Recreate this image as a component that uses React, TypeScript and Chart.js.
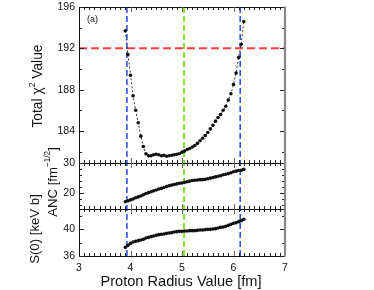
import React, { useEffect, useRef } from "react";
import { Chart, registerables } from "chart.js";

Chart.register(...registerables);

// ---- data ----
const radius = [
  3.9, 3.95, 4.0, 4.05, 4.1, 4.15, 4.2, 4.25, 4.3, 4.35, 4.4, 4.45, 4.5, 4.55, 4.6, 4.65,
  4.7, 4.75, 4.8, 4.85, 4.9, 4.95, 5.0, 5.05, 5.1, 5.15, 5.2, 5.25, 5.3, 5.35, 5.4, 5.45,
  5.5, 5.55, 5.6, 5.65, 5.7, 5.75, 5.8, 5.85, 5.9, 5.95, 6.0, 6.05, 6.1, 6.15, 6.2,
];
const chiSquare = [
  193.7, 191.4, 189.4, 187.4, 186.0, 184.8, 183.5, 182.5, 181.8, 181.6, 181.6, 181.7, 181.75,
  181.7, 181.6, 181.65, 181.55, 181.6, 181.65, 181.7, 181.75, 181.8, 181.95, 182.05, 182.2,
  182.3, 182.45, 182.6, 182.8, 183.05, 183.3, 183.55, 183.85, 184.2, 184.55, 184.95, 185.3,
  185.6, 186.0, 186.4, 187.0, 187.6, 188.5, 189.6, 191.1, 192.4, 194.6,
];
const anc = [
  17.2, 17.5, 17.8, 18.1, 18.5, 18.8, 19.1, 19.5, 19.9, 20.2, 20.5, 20.8, 21.1, 21.4, 21.6,
  21.9, 22.2, 22.5, 22.7, 22.9, 23.1, 23.3, 23.4, 23.6, 23.8, 24.0, 24.2, 24.3, 24.4, 24.5,
  24.5, 24.6, 24.8, 25.0, 25.2, 25.4, 25.6, 25.8, 26.1, 26.3, 26.5, 26.8, 27.1, 27.3, 27.5,
  27.6, 27.9,
];
const sFactor = [
  37.3, 37.6, 37.9, 38.1, 38.2, 38.3, 38.4, 38.5, 38.7, 38.8, 38.9, 39.0, 39.1, 39.2, 39.25,
  39.3, 39.4, 39.45, 39.5, 39.6, 39.65, 39.7, 39.7, 39.75, 39.75, 39.8, 39.8, 39.8, 39.85,
  39.9, 39.9, 39.95, 40.0, 40.0, 40.05, 40.1, 40.2, 40.3, 40.35, 40.45, 40.6, 40.75, 40.9,
  41.0, 41.15, 41.3, 41.5,
];
const xTickLabels = [3, 4, 5, 6, 7];
const chiTickLabels = [184, 188, 192, 196];
const ancTickLabels = [20, 30];
const sTickLabels = [36, 40];
const chiLimit = [192];
const radiusBounds = [3.93, 6.13];
const bestRadius = [5.04];

const FAMILY = '"Liberation Sans", Arial, sans-serif';

type Part = { text: string; sup?: boolean };

function drawRich(ctx: CanvasRenderingContext2D, parts: Part[], cx: number, cy: number, size: number, rotate: boolean) {
  ctx.save();
  ctx.translate(cx, cy);
  if (rotate) ctx.rotate(-Math.PI / 2);
  const fontFor = (sup?: boolean) => `${sup ? size * 0.62 : size}px ${FAMILY}`;
  let total = 0;
  for (const p of parts) {
    ctx.font = fontFor(p.sup);
    total += ctx.measureText(p.text).width;
  }
  let x = -total / 2;
  ctx.textBaseline = "middle";
  ctx.textAlign = "left";
  ctx.fillStyle = "#111";
  for (const p of parts) {
    ctx.font = fontFor(p.sup);
    ctx.fillText(p.text, x, p.sup ? -size * 0.42 : 0);
    x += ctx.measureText(p.text).width;
  }
  ctx.restore();
}

const crisp = (v: number) => Math.round(v) + 0.5;

const framePlugin = {
  id: "frame",
  beforeDatasetsDraw(chart: any) {
    const ctx: CanvasRenderingContext2D = chart.ctx;
    const xs = chart.scales.x;
    const top = chart.chartArea.top;
    const bottom = chart.chartArea.bottom;
    ctx.save();
    ctx.lineWidth = 1.6;
    ctx.setLineDash([6, 3]);
    ctx.strokeStyle = "#3355ee";
    for (const r of radiusBounds) {
      const px = xs.getPixelForValue(r);
      ctx.beginPath();
      ctx.moveTo(px, top);
      ctx.lineTo(px, bottom);
      ctx.stroke();
    }
    ctx.strokeStyle = "#88e030";
    ctx.lineWidth = 2;
    for (const r of bestRadius) {
      const px = xs.getPixelForValue(r);
      ctx.beginPath();
      ctx.moveTo(px, top);
      ctx.lineTo(px, bottom);
      ctx.stroke();
    }
    ctx.restore();
  },
  afterDatasetsDraw(chart: any) {
    const ctx: CanvasRenderingContext2D = chart.ctx;
    const xs = chart.scales.x;
    const { left, right, top, bottom } = chart.chartArea;
    const panels = [
      { s: chart.scales.yC, labels: chiTickLabels, step: 2 },
      { s: chart.scales.yA, labels: ancTickLabels, step: 2 },
      { s: chart.scales.yS, labels: sTickLabels, step: 2 },
    ];
    ctx.save();
    ctx.setLineDash([]);
    ctx.lineWidth = 1;
    for (const p of panels) {
      const pt = p.s.top;
      const pb = p.s.bottom;
      ctx.strokeStyle = "#111";
      for (const yy of [pt, pb]) {
        ctx.beginPath();
        ctx.moveTo(left, crisp(yy));
        ctx.lineTo(right, crisp(yy));
        ctx.stroke();
      }
      for (let i = 30; i <= 70; i++) {
        const v = i / 10;
        const px = crisp(xs.getPixelForValue(v));
        const major = i % 10 === 0;
        const len = major ? 5 : 3;
        ctx.strokeStyle = major ? "#666" : "#222";
        ctx.beginPath();
        ctx.moveTo(px, pt);
        ctx.lineTo(px, pt + len);
        ctx.moveTo(px, pb);
        ctx.lineTo(px, pb - len);
        ctx.stroke();
      }
      const min = p.s.min;
      const max = p.s.max;
      for (let v = Math.ceil(min / p.step) * p.step; v <= max + 1e-9; v += p.step) {
        const py = crisp(p.s.getPixelForValue(v));
        const major = p.labels.includes(v);
        const len = major ? 5 : 3;
        ctx.strokeStyle = "#222";
        ctx.beginPath();
        ctx.moveTo(left, py);
        ctx.lineTo(left + len, py);
        ctx.moveTo(right, py);
        ctx.lineTo(right - len, py);
        ctx.stroke();
      }
      ctx.fillStyle = "#111";
      ctx.font = `10.5px ${FAMILY}`;
      ctx.textAlign = "right";
      ctx.textBaseline = "middle";
      for (const v of p.labels) {
        ctx.fillText(String(v), left - 4, p.s.getPixelForValue(v));
      }
    }
    ctx.strokeStyle = "#111";
    ctx.beginPath();
    ctx.moveTo(crisp(left), top);
    ctx.lineTo(crisp(left), bottom);
    ctx.stroke();
    ctx.strokeStyle = "#888";
    ctx.lineWidth = 2.2;
    ctx.beginPath();
    ctx.moveTo(right, top - 0.5);
    ctx.lineTo(right, bottom + 0.5);
    ctx.stroke();
    ctx.fillStyle = "#111";
    ctx.font = `10.5px ${FAMILY}`;
    ctx.textAlign = "center";
    ctx.textBaseline = "middle";
    for (const v of xTickLabels) {
      ctx.fillText(String(v), xs.getPixelForValue(v), bottom + 12);
    }
    ctx.font = `9px ${FAMILY}`;
    ctx.textAlign = "left";
    ctx.fillText("(a)", left + 8, top + 13);
    ctx.restore();

    drawRich(ctx, [{ text: "Proton Radius Value [fm]" }], (left + right) / 2 - 1, bottom + 26, 14.6, false);
    drawRich(ctx, [{ text: "Total χ" }, { text: "2", sup: true }, { text: " Value" }], 38, 86, 13.8, true);
    drawRich(ctx, [{ text: "ANC [fm" }, { text: "−1/2", sup: true }, { text: "]" }], 53, 182, 13.2, true);
    drawRich(ctx, [{ text: "S(0) [keV b]" }], 35, 229, 13.2, true);
  },
};

export default function App() {
  const ref = useRef<HTMLCanvasElement | null>(null);
  useEffect(() => {
    if (!ref.current) return;
    const pts = (ys: number[]) => radius.map((x, i) => ({ x, y: ys[i] }));
    const chart = new Chart(ref.current, {
      type: "line",
      data: {
        datasets: [
          {
            data: pts(chiSquare),
            yAxisID: "yC",
            borderColor: "#333",
            borderWidth: 1,
            borderDash: [2, 2],
            pointRadius: 1.8,
            pointBackgroundColor: "#111",
            pointBorderColor: "#111",
            pointBorderWidth: 0,
            tension: 0,
          },
          {
            data: pts(anc),
            yAxisID: "yA",
            borderColor: "#111",
            borderWidth: 1.5,
            pointRadius: 1.8,
            pointBackgroundColor: "#111",
            pointBorderColor: "#111",
            pointBorderWidth: 0,
            tension: 0,
          },
          {
            data: pts(sFactor),
            yAxisID: "yS",
            borderColor: "#111",
            borderWidth: 1.5,
            pointRadius: 1.8,
            pointBackgroundColor: "#111",
            pointBorderColor: "#111",
            pointBorderWidth: 0,
            tension: 0,
          },
          {
            data: [
              { x: 3, y: chiLimit[0] },
              { x: 7, y: chiLimit[0] },
            ],
            yAxisID: "yC",
            borderColor: "#ff3a3a",
            borderWidth: 2,
            borderDash: [8, 4],
            pointRadius: 0,
          },
        ],
      },
      options: {
        animation: false,
        responsive: false,
        devicePixelRatio: 1,
        layout: { padding: { left: 79, right: 89, top: 7, bottom: 34 } },
        plugins: { legend: { display: false }, tooltip: { enabled: false } },
        scales: {
          x: { type: "linear", min: 3, max: 7, display: false },
          yS: { type: "linear", position: "left", min: 36, max: 43.05, display: false, stack: "panels", stackWeight: 47 },
          yA: { type: "linear", position: "left", min: 14.8, max: 30, display: false, stack: "panels", stackWeight: 46 },
          yC: { type: "linear", position: "left", min: 180.9, max: 196, display: false, stack: "panels", stackWeight: 156 },
        },
      },
      plugins: [framePlugin],
    } as any);
    return () => chart.destroy();
  }, []);
  return (
    <div style={{ position: "fixed", left: 0, top: 0, width: 374, height: 290, background: "#fff" }}>
      <canvas ref={ref} width={374} height={290} style={{ width: 374, height: 290, display: "block" }} />
    </div>
  );
}
